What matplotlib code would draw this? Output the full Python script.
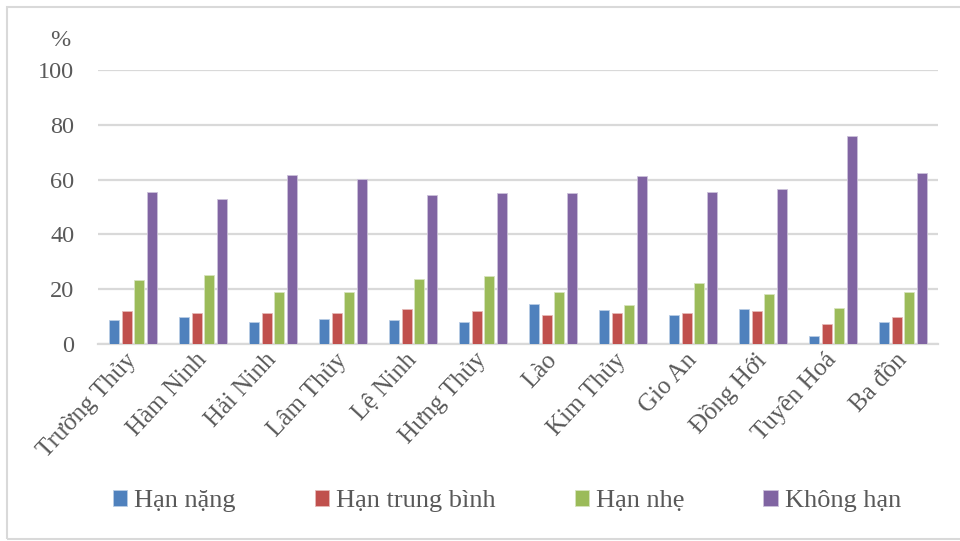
import matplotlib
matplotlib.use("Agg")
import matplotlib.pyplot as plt
import numpy as np
from matplotlib.patches import Rectangle

plt.rcParams['font.family'] = ['Liberation Serif', 'DejaVu Serif']

# data (%)
places = ['Trường Thủy', 'Hàm Ninh', 'Hải Ninh', 'Lâm Thủy', 'Lệ Ninh', 'Hưng Thủy',
          'Lào', 'Kim Thủy', 'Gio An', 'Đồng Hới', 'Tuyên Hoá', 'Ba đồn']
han_nang = [8.6, 10.0, 7.9, 9.0, 8.6, 7.9, 14.6, 12.5, 10.7, 12.8, 3.1, 8.1]
han_tb = [11.9, 11.5, 11.2, 11.5, 12.9, 11.9, 10.7, 11.5, 11.2, 11.9, 7.4, 9.8]
han_nhe = [23.3, 25.1, 18.9, 18.9, 23.7, 24.7, 19.1, 14.1, 22.2, 18.1, 13.1, 18.9]
khong_han = [55.4, 52.9, 61.6, 60.1, 54.2, 55.0, 55.1, 61.2, 55.4, 56.6, 75.9, 62.4]

series = [('Hạn nặng', han_nang, '#4F81BD', '#B9CDE5'),
          ('Hạn trung bình', han_tb, '#C0504D', '#E6B9B8'),
          ('Hạn nhẹ', han_nhe, '#9BBB59', '#D7E4BD'),
          ('Không hạn', khong_han, '#8064A2', '#CCC1DA')]

txt = '#595959'
grid = '#D9D9D9'
fs = 17.5

fig = plt.figure(figsize=(9.6, 5.41), dpi=100)
ax = fig.add_axes([0.102, 0.364, 0.875, 0.507])

x = np.arange(len(places))
step = 0.18
w = 0.145
for i, (name, vals, col, edge) in enumerate(series):
    ax.bar(x + (i - 1.5) * step, vals, width=w, color=col, edgecolor=edge,
           linewidth=0.6, label=name, zorder=3)

ax.set_xlim(-0.5, len(places) - 0.5)
ax.set_ylim(0, 100)
ax.set_yticks(range(0, 101, 20))
ax.yaxis.grid(True, color=grid, linewidth=1.6, zorder=0)
for s in ['top', 'right', 'left']:
    ax.spines[s].set_visible(False)
ax.spines['bottom'].set_color(grid)
ax.spines['bottom'].set_linewidth(1.6)
ax.tick_params(axis='both', length=0, colors=txt, labelsize=fs)
ax.tick_params(axis='y', pad=17)
ax.tick_params(axis='x', labelsize=18, pad=9)
ax.set_xticks(x)
ax.set_xticklabels(places, rotation=47, ha='right', va='center',
                   rotation_mode='anchor')

fig.text(60 / 960, 1 - 40 / 541, '%', color=txt, fontsize=fs,
         ha='center', va='center')

leg = fig.legend(loc='center', bbox_to_anchor=(0.528, 1 - 501 / 541), ncol=4,
                 frameon=False, fontsize=19, labelcolor=txt,
                 handlelength=0.55, handleheight=0.55, handletextpad=0.25,
                 columnspacing=3.0)

fig.patches.append(Rectangle((7 / 960, 2 / 541), 1.2, 1 - 9 / 541,
                             transform=fig.transFigure, fill=False,
                             edgecolor='#D9D9D9', linewidth=1.5))

fig.savefig('out.png', dpi=100)
